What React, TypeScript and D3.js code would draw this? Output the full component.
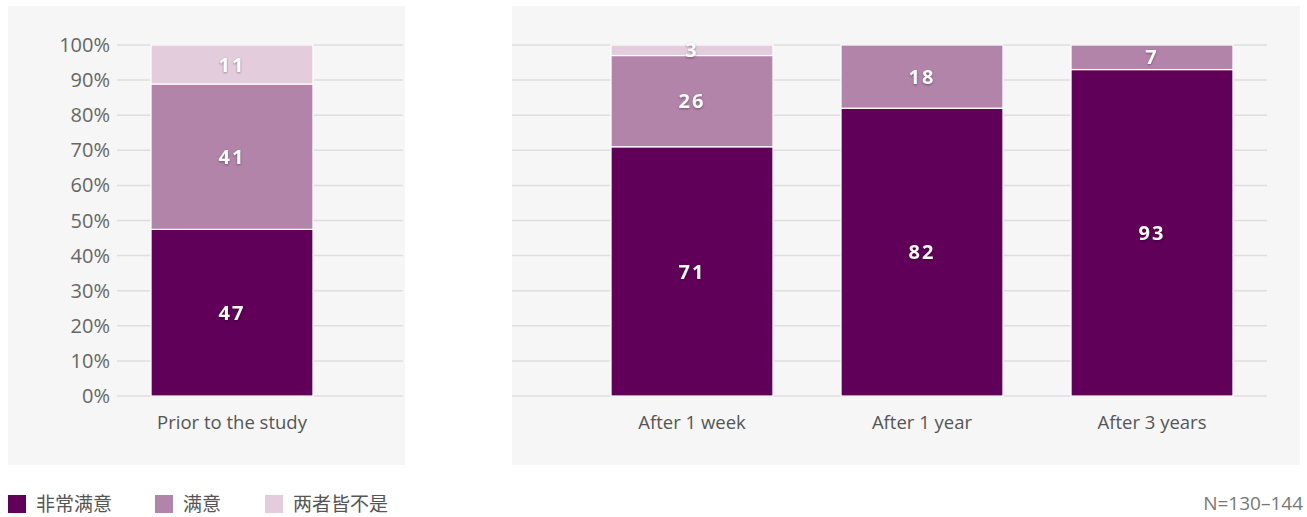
import React from "react";
import * as d3 from "d3";

const seriesNames = ["非常满意", "满意", "两者皆不是"];
const seriesColors = ["#600058", "#b384aa", "#e3cddd"];

const leftCategories = ["Prior to the study"];
const leftVeryHappy = [47];
const leftHappy = [41];
const leftNeither = [11];

const rightCategories = ["After 1 week", "After 1 year", "After 3 years"];
const rightVeryHappy = [71, 82, 93];
const rightHappy = [26, 18, 7];
const rightNeither = [3, 0, 0];

const yTicks = [0, 0.1, 0.2, 0.3, 0.4, 0.5, 0.6, 0.7, 0.8, 0.9, 1];
const footnote = "N=130–144";

const W = 1307;
const H = 517;
const y = d3.scaleLinear().domain([0, 1]).range([396, 45]);

type Row = { cat: string; a: number; b: number; c: number };

function buildRows(cats: string[], a: number[], b: number[], c: number[]): Row[] {
  return cats.map((cat, i) => ({ cat, a: a[i], b: b[i], c: c[i] }));
}

const stackGen = d3
  .stack<Row>()
  .keys(["a", "b", "c"])
  .offset(d3.stackOffsetExpand);

function Panel({
  rows,
  bandRange,
  gridRange,
  bg,
}: {
  rows: Row[];
  bandRange: [number, number];
  gridRange: [number, number];
  bg: [number, number, number, number];
}) {
  const x = d3
    .scaleBand<string>()
    .domain(rows.map((r) => r.cat))
    .range(bandRange)
    .paddingInner(0.296)
    .paddingOuter(0.148);
  const raw = [rows.map((r) => r.a), rows.map((r) => r.b), rows.map((r) => r.c)];
  const stacked = stackGen(rows);
  return (
    <g>
      <rect x={bg[0]} y={bg[1]} width={bg[2] - bg[0]} height={bg[3] - bg[1]} fill="#f6f6f6" />
      {yTicks.map((t) => (
        <line
          key={t}
          x1={gridRange[0]}
          x2={gridRange[1]}
          y1={y(t)}
          y2={y(t)}
          stroke="#dedede"
          strokeWidth={1.5}
        />
      ))}
      {stacked.map((layer, si) =>
        layer.map((d, i) => {
          const v = raw[si][i];
          if (!v) return null;
          const x0 = x(rows[i].cat)!;
          const y0 = y(d[1]);
          const y1 = y(d[0]);
          return (
            <g key={si + "-" + i}>
              <rect
                x={x0}
                y={y0}
                width={x.bandwidth()}
                height={y1 - y0}
                fill={seriesColors[si]}
                stroke="#ffffff"
                strokeWidth={1.2}
              />
              <text
                x={x0 + x.bandwidth() / 2}
                y={(y0 + y1) / 2}
                dy="0.36em"
                textAnchor="middle"
                fill="#ffffff"
                fontFamily="'Open Sans', sans-serif"
                fontWeight={700}
                fontSize={20}
                letterSpacing={2}
                style={{ filter: "drop-shadow(0px 1px 1px rgba(0,0,0,0.35))" }}
              >
                {v}
              </text>
            </g>
          );
        })
      )}
      {rows.map((r) => (
        <text
          key={r.cat}
          x={x(r.cat)! + x.bandwidth() / 2}
          y={423}
          dy="0.35em"
          textAnchor="middle"
          fill="#555"
          fontFamily="'Open Sans', sans-serif"
          fontSize={18.5}
        >
          {r.cat}
        </text>
      ))}
    </g>
  );
}

export default function App() {
  const leftRows = buildRows(leftCategories, leftVeryHappy, leftHappy, leftNeither);
  const rightRows = buildRows(rightCategories, rightVeryHappy, rightHappy, rightNeither);
  const legendX = [8, 155, 265];
  return (
    <svg
      width={W}
      height={H}
      style={{ position: "absolute", left: 0, top: 0, display: "block", background: "#fff" }}
    >
      <Panel rows={leftRows} bandRange={[117, 347]} gridRange={[117, 403]} bg={[8, 6, 405, 465]} />
      <Panel rows={rightRows} bandRange={[577, 1267]} gridRange={[512, 1267]} bg={[512, 6, 1300, 465]} />
      {yTicks.map((t) => (
        <text
          key={t}
          x={110}
          y={y(t)}
          dy="0.35em"
          textAnchor="end"
          fill="#666"
          fontFamily="'Open Sans', sans-serif"
          fontSize={20}
        >
          {d3.format(".0%")(t)}
        </text>
      ))}
      {seriesNames.map((n, i) => (
        <g key={n}>
          <rect x={legendX[i]} y={495} width={18} height={18} fill={seriesColors[i]} />
          <text
            x={legendX[i] + 28}
            y={504}
            dy="0.35em"
            fill="#555"
            fontFamily="'Noto Sans CJK SC', sans-serif"
            fontSize={19}
          >
            {n}
          </text>
        </g>
      ))}
      <text
        x={1303}
        y={510}
        textAnchor="end"
        fill="#777"
        fontFamily="'Open Sans', sans-serif"
        fontSize={19}
      >
        {footnote}
      </text>
    </svg>
  );
}
